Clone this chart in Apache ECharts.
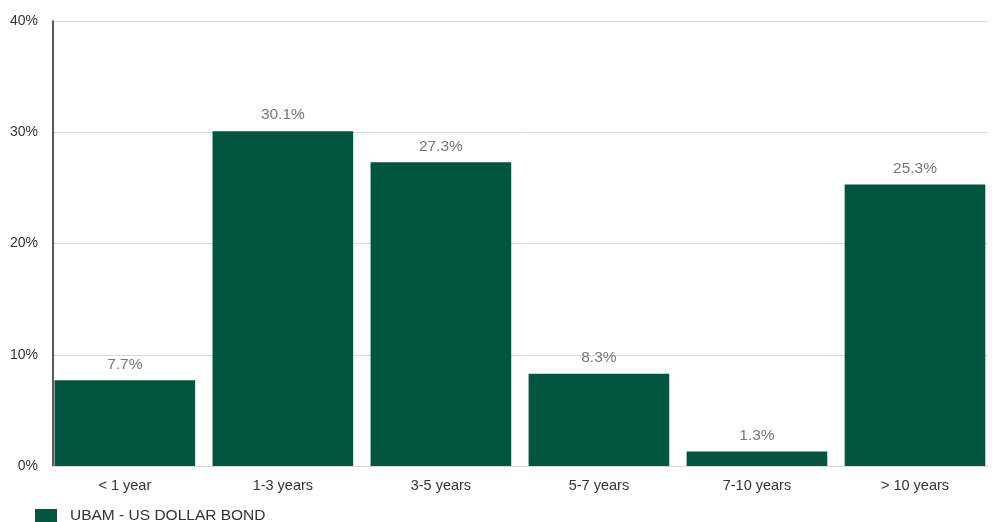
<!DOCTYPE html>
<html><head><meta charset="utf-8">
<script src="https://cdn.jsdelivr.net/npm/echarts@6/dist/echarts.min.js"></script>
<style>html,body{margin:0;padding:0;background:#fff}#c{width:994px;height:522px}</style>
</head><body><div id="c"></div>
<script>
const categories = ['< 1 year','1-3 years','3-5 years','5-7 years','7-10 years','> 10 years'];
const values = [7.7, 30.1, 27.3, 8.3, 1.3, 25.3];
const seriesName = 'UBAM - US DOLLAR BOND';
const yTicks = [0, 10, 20, 30, 40];
const font = 'Liberation Sans';
const yMin = yTicks[0], yMax = yTicks[yTicks.length - 1];
const chart = echarts.init(document.getElementById('c'));
chart.setOption({
  animation: false,
  textStyle: {fontFamily: font},
  grid: [
    {left: 53, right: 6, top: 21, bottom: 56},
    {left: 45.8, right: -3.2, top: 21, bottom: 56}
  ],
  legend: {
    left: 30, bottom: -7, itemWidth: 22, itemHeight: 14, itemGap: 10,
    icon: 'rect',
    textStyle: {color: '#333', fontSize: 15.5, fontFamily: font, padding: [0, 0, 0, 8]},
    data: [seriesName]
  },
  xAxis: [
    {
      gridIndex: 0, type: 'category', data: categories,
      axisLine: {show: true, lineStyle: {color: '#d9d9d9'}},
      axisTick: {show: false}, axisLabel: {show: false}
    },
    {
      gridIndex: 1, type: 'category', data: categories,
      axisLine: {show: false}, axisTick: {show: false},
      axisLabel: {color: '#333', fontSize: 14.5, margin: 12, fontFamily: font}
    }
  ],
  yAxis: [
    {
      gridIndex: 0, type: 'value', min: yMin, max: yMax, interval: 10,
      axisLine: {show: true, lineStyle: {color: '#222', width: 1.5}},
      axisTick: {show: false},
      splitLine: {lineStyle: {color: '#d9d9d9'}},
      axisLabel: {color: '#333', fontSize: 14, margin: 15, formatter: '{value}%', fontFamily: font}
    },
    {
      gridIndex: 1, type: 'value', min: yMin, max: yMax, interval: 10,
      show: false, splitLine: {show: false}
    }
  ],
  series: [{
    name: seriesName, type: 'bar', data: values,
    xAxisIndex: 1, yAxisIndex: 1,
    barCategoryGap: '11%',
    itemStyle: {color: '#02553F'},
    label: {show: true, position: 'top', distance: 8, color: '#777', fontSize: 15.5, formatter: p => p.value.toFixed(1) + '%', fontFamily: font}
  }]
});
</script></body></html>
